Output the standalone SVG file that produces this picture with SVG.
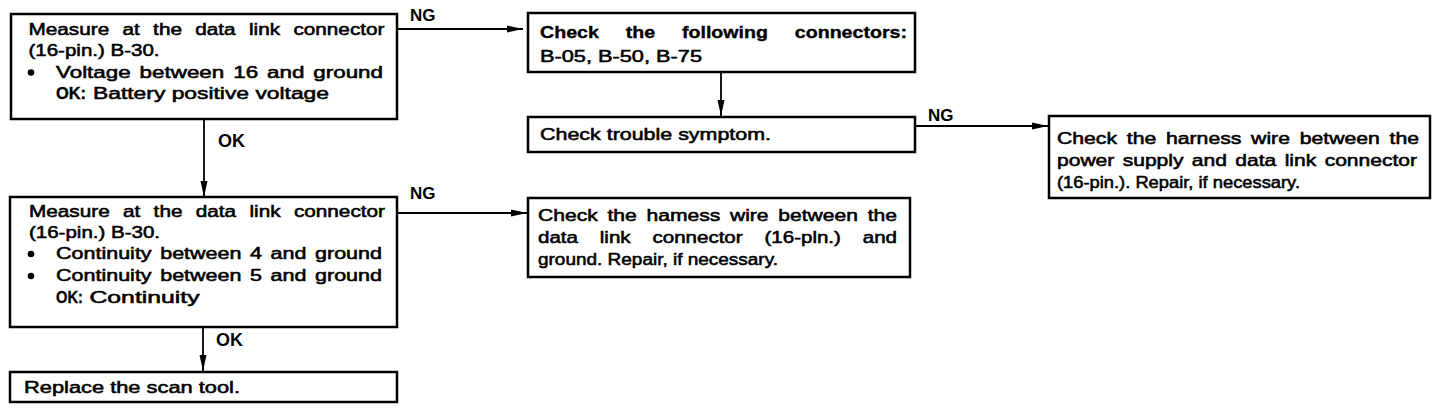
<svg xmlns="http://www.w3.org/2000/svg" width="1440" height="410" viewBox="0 0 1440 410">
<style>
.box{fill:#fff;stroke:#000;stroke-width:2.5}
.t{font-family:"Liberation Sans",Arial,Helvetica,sans-serif;font-size:16.5px;fill:#000;stroke:#000;stroke-width:0.55}
.b{font-weight:bold;stroke-width:0.35}
.lbl{font-family:"Liberation Sans",Arial,Helvetica,sans-serif;font-size:17px;font-weight:bold;fill:#000}
.ok{font-size:18px}
.conn{stroke:#000;stroke-width:1.8;fill:none}
.dot{fill:#000}
</style>
<defs>
<marker id="arr" viewBox="0 0 16 8" refX="16" refY="4" markerWidth="16" markerHeight="8" markerUnits="userSpaceOnUse" orient="auto">
<path d="M0,0.5 L16,4 L0,7.5 z" fill="#000"/>
</marker>
</defs>

<g id="connectors">
<path class="conn" d="M397,29 H523" marker-end="url(#arr)"/>
<path class="conn" d="M204,119 V197" marker-end="url(#arr)"/>
<path class="conn" d="M721,72 V116" marker-end="url(#arr)"/>
<path class="conn" d="M915,126 H1048" marker-end="url(#arr)"/>
<path class="conn" d="M397,213 H527" marker-end="url(#arr)"/>
<path class="conn" d="M203,327 V371" marker-end="url(#arr)"/>
<text class="lbl" x="410" y="21">NG</text>
<text class="lbl ok" x="218" y="147">OK</text>
<text class="lbl" x="928" y="121">NG</text>
<text class="lbl" x="410" y="199">NG</text>
<text class="lbl ok" x="216" y="346">OK</text>
</g>

<g id="n1">
<rect class="box" x="11" y="14" width="386" height="105"/>
<text class="t" x="28.5" y="35" word-spacing="6" textLength="356" lengthAdjust="spacingAndGlyphs">Measure at the data link connector</text>
<text class="t" x="28.5" y="56" textLength="131" lengthAdjust="spacingAndGlyphs">(16-pin.) B-30.</text>
<circle class="dot" cx="31" cy="72.5" r="3.3"/>
<text class="t" x="56" y="77.5" word-spacing="2" textLength="327" lengthAdjust="spacingAndGlyphs">Voltage between 16 and ground</text>
<text class="t b" x="56" y="98.5" textLength="30" lengthAdjust="spacingAndGlyphs">OK:</text>
<text class="t" x="93" y="98.5" textLength="236" lengthAdjust="spacingAndGlyphs">Battery positive voltage</text>
</g>

<g id="n2">
<rect class="box" x="528" y="13" width="387" height="59"/>
<text class="t b" x="540" y="38" word-spacing="18" textLength="367" lengthAdjust="spacingAndGlyphs">Check the following connectors:</text>
<text class="t" x="540" y="62" textLength="162" lengthAdjust="spacingAndGlyphs">B-05, B-50, B-75</text>
</g>

<g id="n3">
<rect class="box" x="528" y="117" width="387" height="35"/>
<text class="t" x="540" y="140" textLength="231" lengthAdjust="spacingAndGlyphs">Check trouble symptom.</text>
</g>

<g id="n4">
<rect class="box" x="1049" y="116" width="381" height="82"/>
<text class="t" x="1057" y="144" word-spacing="3" textLength="362" lengthAdjust="spacingAndGlyphs">Check the harness wire between the</text>
<text class="t" x="1057" y="166" word-spacing="2" textLength="360" lengthAdjust="spacingAndGlyphs">power supply and data link connector</text>
<text class="t" x="1057" y="188" textLength="243" lengthAdjust="spacingAndGlyphs">(16-pin.). Repair, if necessary.</text>
</g>

<g id="n5">
<rect class="box" x="528" y="198" width="382" height="79"/>
<text class="t" x="538" y="221" word-spacing="3" textLength="359" lengthAdjust="spacingAndGlyphs">Check the hamess wire between the</text>
<text class="t" x="538" y="243" word-spacing="13" textLength="359" lengthAdjust="spacingAndGlyphs">data link connector (16-pln.) and</text>
<text class="t" x="538" y="265" textLength="240" lengthAdjust="spacingAndGlyphs">ground. Repair, if necessary.</text>
</g>

<g id="n6">
<rect class="box" x="10" y="197" width="387" height="130"/>
<text class="t" x="29" y="217" word-spacing="6" textLength="356" lengthAdjust="spacingAndGlyphs">Measure at the data link connector</text>
<text class="t" x="29" y="238" textLength="131" lengthAdjust="spacingAndGlyphs">(16-pin.) B-30.</text>
<circle class="dot" cx="31" cy="254" r="3.3"/>
<text class="t" x="56" y="259" word-spacing="2" textLength="326" lengthAdjust="spacingAndGlyphs">Continuity between 4 and ground</text>
<circle class="dot" cx="31" cy="276" r="3.3"/>
<text class="t" x="56" y="281" word-spacing="2" textLength="326" lengthAdjust="spacingAndGlyphs">Continuity between 5 and ground</text>
<text class="t b" x="56" y="303" textLength="27" lengthAdjust="spacingAndGlyphs">OK:</text>
<text class="t" x="89.5" y="303" textLength="110" lengthAdjust="spacingAndGlyphs">Continuity</text>
</g>

<g id="n7">
<rect class="box" x="10" y="372" width="387" height="30"/>
<text class="t" x="24" y="393" textLength="216" lengthAdjust="spacingAndGlyphs">Replace the scan tool.</text>
</g>
</svg>
